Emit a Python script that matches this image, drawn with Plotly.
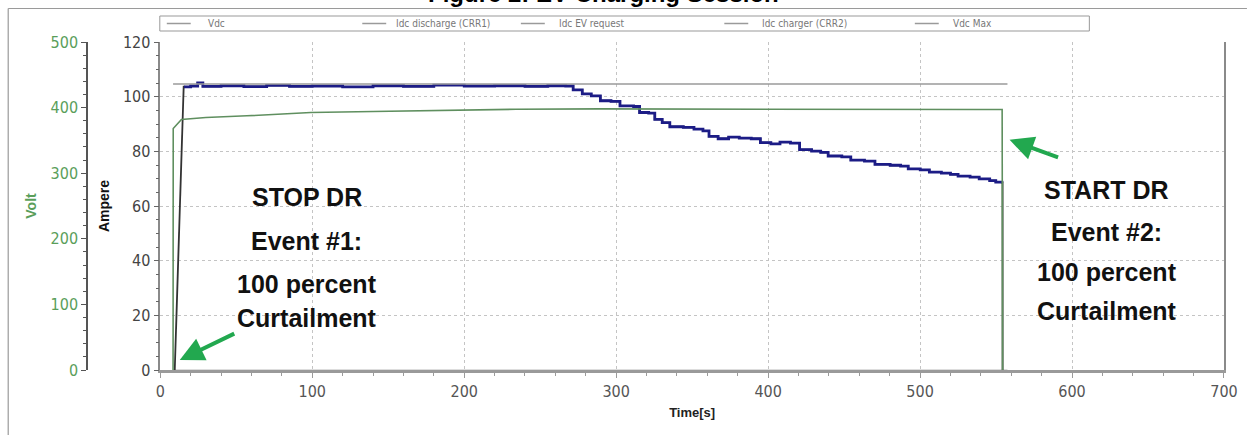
import plotly.graph_objects as go

# ---------------- data ----------------
# Vdc (Volt axis)
vdc_t = [8.4, 8.5, 13.9, 30, 57, 99, 140, 168, 234, 289, 350, 420, 480, 540, 554.0, 554.3]
vdc_v = [0, 368, 382, 385, 387.5, 392.5, 394, 395, 397.5, 398, 397.5, 397.5, 397, 397, 397, 0]

# Vdc Max (Volt axis)
vdcmax_t = [8.4, 557.5]
vdcmax_v = [436, 436]

# Idc EV request (Ampere axis)
req_t = [15.6, 20, 24.6, 28, 40, 55, 70, 85, 100, 120, 140, 160, 180, 200, 220, 240, 255,
         266.8, 271.7, 277.7, 283.6, 289.6, 296.6, 302.5, 311.5, 315.4, 321.4, 325.4, 330.3,
         335.3, 344.2, 351.2, 357.1, 361.1, 367.1, 374.0, 381.0, 388.9, 394.9, 401.8, 407.8,
         414.7, 420.7, 428.6, 434.6, 439.5, 448.5, 454.4, 463.4, 470.3, 480.3, 487.2, 492.2,
         500.1, 506.1, 514.0, 520.0, 525.0, 532.9, 538.9, 545.8, 549.8, 553.8]
req_a = [103.6, 103.9, 105.0, 103.8, 104.0, 103.7, 104.1, 103.8, 103.9, 103.6, 104.0, 103.8,
         104.2, 103.9, 104.0, 103.8, 104.0,
         103.9, 102.5, 101.0, 100.3, 98.5, 98.3, 96.6, 96.4, 94.2, 94.0, 91.7, 90.5,
         89.0, 88.8, 88.1, 87.5, 85.5, 84.6, 85.2, 84.8, 84.6, 83.2, 82.7, 83.4,
         83.0, 80.6, 80.1, 79.6, 78.3, 78.0, 76.8, 76.4, 75.2, 74.9, 74.6, 73.6,
         73.2, 72.4, 72.0, 71.6, 70.9, 70.6, 69.9, 69.3, 68.7, 68.6]

# Idc charger (CRR2): ramp up, then follows the request (drawn underneath), then drop
chg_ramp_t = [9.5, 12.0, 15.4]
chg_ramp_a = [0, 45, 104]
chg_end_t = [554.3]
chg_end_a = [0]

# Idc discharge (CRR1): stays at zero
dis_t = [8.4, 557.5]
dis_a = [0, 0]

x_ticks = [0, 100, 200, 300, 400, 500, 600, 700]
amp_ticks = [0, 20, 40, 60, 80, 100, 120]
volt_ticks = [0, 100, 200, 300, 400, 500]

legend_names = ["Vdc", "Idc discharge (CRR1)", "Idc EV request", "Idc charger (CRR2)", "Vdc Max"]

# ---------------- layout helpers ----------------
W, H = 1250, 435
L, R, T, B = 87, 23, 42, 65
PW, PH = W - L - R, H - T - B
AX0 = 160.5  # pixel of the Ampere axis / x=0


def px(xp):
    return (xp - L) / PW


def py(yp):
    return (H - B - yp) / PH


NARROW = "Liberation Sans Narrow, Arial Narrow, DejaVu Sans Condensed, sans-serif"
ARIAL = "Liberation Sans, Arial, sans-serif"
GREEN_TXT = "#5a9e5a"

fig = go.Figure()
fig.add_trace(go.Scatter(x=dis_t, y=dis_a, mode="lines", name=legend_names[1],
                         line=dict(color="#bbbbbb", width=1), showlegend=False))
fig.add_trace(go.Scatter(x=vdcmax_t, y=vdcmax_v, yaxis="y2", mode="lines", name=legend_names[4],
                         line=dict(color="#9a9a9a", width=1.5), showlegend=False))
fig.add_trace(go.Scatter(x=vdc_t, y=vdc_v, yaxis="y2", mode="lines", name=legend_names[0],
                         line=dict(color="#5f8f5f", width=1.6), showlegend=False))
# charger: ramp (linear), plateau/decline (steps, under the request), final drop
fig.add_trace(go.Scatter(x=chg_ramp_t, y=chg_ramp_a, mode="lines", name=legend_names[3],
                         line=dict(color="#333333", width=1.8), showlegend=False))
fig.add_trace(go.Scatter(x=req_t + chg_end_t, y=req_a + chg_end_a, mode="lines", name=legend_names[3],
                         line_shape="hv", line=dict(color="#333333", width=1.8), showlegend=False))
fig.add_trace(go.Scatter(x=req_t, y=req_a, mode="lines", name=legend_names[2], line_shape="hv",
                         line=dict(color="#1c1c86", width=2.8), showlegend=False))

shapes = []
annotations = []

# outer frame
shapes.append(dict(type="line", xref="paper", yref="paper", x0=px(8), x1=px(1250), y0=py(8.5), y1=py(8.5),
                   line=dict(color="#9a9a9a", width=1.2)))
shapes.append(dict(type="line", xref="paper", yref="paper", x0=px(8), x1=px(8), y0=py(8.5), y1=py(435),
                   line=dict(color="#9a9a9a", width=1.2)))

# legend box
shapes.append(dict(type="rect", xref="paper", yref="paper", x0=px(160), x1=px(1092), y0=py(31), y1=py(16),
                   line=dict(color="#999999", width=1), fillcolor="white"))
leg_line_x = [167, 363, 522, 726, 917]
leg_text_x = [206, 395, 558, 762, 953]
leg_cols = ["#9a9a9a"] * 5
for i, name in enumerate(legend_names):
    shapes.append(dict(type="line", xref="paper", yref="paper",
                       x0=px(leg_line_x[i]), x1=px(leg_line_x[i] + 24), y0=py(23.5), y1=py(23.5),
                       line=dict(color=leg_cols[i], width=1.5)))
    annotations.append(dict(text=name, xref="paper", yref="paper", x=px(leg_text_x[i]), y=py(23.5),
                            xanchor="left", yanchor="middle", showarrow=False,
                            font=dict(family=NARROW, size=10, color="#777777")))

# clipped figure title at the very top
annotations.append(dict(text="<b>Figure 2: EV Charging Session</b>", xref="paper", yref="paper",
                        x=px(605), y=py(9), xanchor="center", yanchor="bottom", showarrow=False,
                        font=dict(family=ARIAL, size=24, color="#000000")))

# event texts
left_lines = ["STOP DR", "Event #1:", "100 percent", "Curtailment"]
left_y = [63.3, 47.2, 31.5, 19.0]
right_lines = ["START DR", "Event #2:", "100 percent", "Curtailment"]
right_y = [65.9, 50.5, 35.9, 21.6]
for txt, yy in zip(left_lines, left_y):
    annotations.append(dict(text="<b>%s</b>" % txt, x=96.5, y=yy, xref="x", yref="y", showarrow=False,
                            xanchor="center", yanchor="middle", font=dict(family=ARIAL, size=25, color="#111111")))
for txt, yy in zip(right_lines, right_y):
    annotations.append(dict(text="<b>%s</b>" % txt, x=623, y=yy, xref="x", yref="y", showarrow=False,
                            xanchor="center", yanchor="middle", font=dict(family=ARIAL, size=25, color="#111111")))

# green arrows
ARROW = "#22a84f"
annotations.append(dict(x=12.8, y=3.7, xref="x", yref="y", ax=56, ay=-27, text="", showarrow=True,
                        arrowhead=2, arrowsize=1.2, arrowwidth=4, arrowcolor=ARROW))
annotations.append(dict(x=558.9, y=84.2, xref="x", yref="y", ax=50, ay=18, text="", showarrow=True,
                        arrowhead=2, arrowsize=1.2, arrowwidth=4, arrowcolor=ARROW))

fig.update_layout(
    width=W, height=H,
    margin=dict(l=L, r=R, t=T, b=B),
    paper_bgcolor="white", plot_bgcolor="white",
    showlegend=False,
    shapes=shapes, annotations=annotations,
    xaxis=dict(domain=[px(AX0), 1], range=[0, 700], tickvals=x_ticks, showgrid=True,
               gridcolor="#c4c4c4", griddash="dot", gridwidth=1, zeroline=False,
               showline=True, linecolor="#9a9a9a", linewidth=2.5,
               ticks="outside", ticklen=5, tickcolor="#9a9a9a",
               minor=dict(dtick=20, ticks="outside", ticklen=3, tickcolor="#9a9a9a", showgrid=False),
               tickfont=dict(family=NARROW, size=16, color="#555555"),
               title=dict(text="<b>Time[s]</b>", font=dict(family=ARIAL, size=13, color="#222222"), standoff=8)),
    yaxis=dict(range=[0, 120], tickvals=amp_ticks, anchor="x", showgrid=True,
               gridcolor="#c4c4c4", griddash="dot", zeroline=False,
               showline=True, linecolor="#8a8a8a", linewidth=1.5, mirror=True,
               ticks="outside", ticklen=5, tickcolor="#666666",
               minor=dict(dtick=5, ticks="outside", ticklen=3, tickcolor="#666666", showgrid=False),
               tickfont=dict(family=NARROW, size=16, color="#444444"),
               title=dict(text="<b>Ampere</b>", font=dict(family=ARIAL, size=14, color="#111111"), standoff=10)),
    yaxis2=dict(range=[0, 500], tickvals=volt_ticks, overlaying="y", anchor="free", position=0, side="left",
                showgrid=False, zeroline=False, showline=True, linecolor="#555555", linewidth=1.5,
                ticks="outside", ticklen=5, tickcolor="#555555",
                minor=dict(dtick=20, ticks="outside", ticklen=3, tickcolor="#555555", showgrid=False),
                tickfont=dict(family=NARROW, size=16, color=GREEN_TXT),
                title=dict(text="<b>Volt</b>", font=dict(family=ARIAL, size=14, color=GREEN_TXT), standoff=10)),
)

fig.write_html("out.html")
